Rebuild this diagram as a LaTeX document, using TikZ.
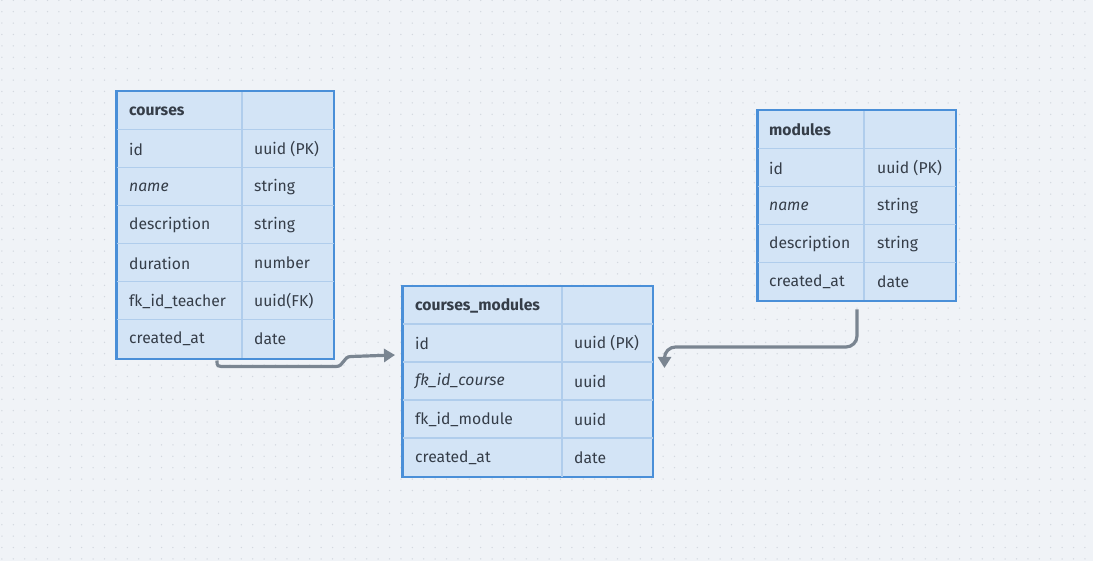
\documentclass[tikz,border=0pt]{standalone}
\usepackage{fontspec}
\setmainfont{Fira Sans}
\usetikzlibrary{arrows.meta,calc}
\definecolor{bg}{HTML}{F0F3F7}
\definecolor{dotc}{HTML}{D3D8DF}
\definecolor{tfill}{HTML}{D3E4F6}
\definecolor{tborder}{HTML}{4A8FD8}
\definecolor{tline}{HTML}{B0CDEC}
\definecolor{txt}{HTML}{353D48}
\definecolor{conn}{HTML}{7A8591}
\tikzset{
  tbl/.style={draw=tborder, line width=1.5pt, fill=tfill, anchor=north west, inner sep=0pt},
  cell/.style={anchor=west, inner sep=0pt, text=txt, font=\fontsize{15.7}{18}\selectfont},
  hcell/.style={cell, font=\fontsize{15.7}{18}\selectfont\bfseries},
  icell/.style={cell, font=\fontsize{15.7}{18}\selectfont\itshape},
  rowline/.style={draw=tline, line width=1.5pt},
  connector/.style={draw=conn, line width=3.2pt, -{Triangle[length=11pt,width=13pt]}},
}
\begin{document}
\begin{tikzpicture}[x=1pt,y=-1pt]
\useasboundingbox (0,0) rectangle (1093,561);
\fill[bg] (0,0) rectangle (1093,561);
\foreach \i in {0,...,96}{
  \foreach \j in {0,...,49}{
    \fill[dotc] ({1.9+11.4*\i},{0.3+11.4*\j}) circle (0.75);
  }
}
% ---------- courses ----------
\node[tbl, minimum width=217pt, minimum height=267pt] (courses) at (116,91) {};
\foreach \y in {129.5,167.5,205.5,243.5,281.5,319.5}
  \draw[rowline] ($(courses.north west)+(1,\y-91)$) -- ($(courses.north east)+(-1,\y-91)$);
\draw[rowline] ($(courses.north west)+(126,1)$) -- ($(courses.south west)+(126,-1)$);
\draw[tborder, line width=1.5pt] (courses.north west) rectangle (courses.south east);
\node[hcell] (c0) at (129,111) {courses};
\node[cell] (c1a) at (129,149) {id};          \node[cell] (c1b) at (254,149) {uuid (PK)};
\node[icell] (c2a) at (129,187) {name};       \node[cell] (c2b) at (254,187) {string};
\node[cell] (c3a) at (129,225) {description}; \node[cell] (c3b) at (254,225) {string};
\node[cell] (c4a) at (129,263) {duration};    \node[cell] (c4b) at (254,263) {number};
\node[cell] (c5a) at (129,301) {fk\_id\_teacher}; \node[cell] (c5b) at (254,301) {uuid(FK)};
\node[cell] (c6a) at (129,339) {created\_at}; \node[cell] (c6b) at (254,339) {date};
% ---------- courses_modules ----------
\node[tbl, minimum width=250pt, minimum height=190pt] (cm) at (402,286) {};
\foreach \y in {324,362,400,438}
  \draw[rowline] ($(cm.north west)+(1,\y-286)$) -- ($(cm.north east)+(-1,\y-286)$);
\draw[rowline] ($(cm.north west)+(160,1)$) -- ($(cm.south west)+(160,-1)$);
\draw[tborder, line width=1.5pt] (cm.north west) rectangle (cm.south east);
\node[hcell] (m0) at (415,305.5) {courses\_modules};
\node[cell] (m1a) at (415,343.5) {id};            \node[cell] (m1b) at (574,343.5) {uuid (PK)};
\node[icell] (m2a) at (415,381.5) {fk\_id\_course}; \node[cell] (m2b) at (574,381.5) {uuid};
\node[cell] (m3a) at (415,419.5) {fk\_id\_module}; \node[cell] (m3b) at (574,419.5) {uuid};
\node[cell] (m4a) at (415,457.5) {created\_at};   \node[cell] (m4b) at (574,457.5) {date};
% ---------- modules ----------
\node[tbl, minimum width=198pt, minimum height=190pt] (mod) at (757,110) {};
\foreach \y in {148.5,186.5,224.5,262.5}
  \draw[rowline] ($(mod.north west)+(1,\y-110)$) -- ($(mod.north east)+(-1,\y-110)$);
\draw[rowline] ($(mod.north west)+(107,1)$) -- ($(mod.south west)+(107,-1)$);
\draw[tborder, line width=1.5pt] (mod.north west) rectangle (mod.south east);
\node[hcell] (d0) at (769,130) {modules};
\node[cell] (d1a) at (769,168) {id};          \node[cell] (d1b) at (877,168) {uuid (PK)};
\node[icell] (d2a) at (769,206) {name};       \node[cell] (d2b) at (877,206) {string};
\node[cell] (d3a) at (769,244) {description}; \node[cell] (d3b) at (877,244) {string};
\node[cell] (d4a) at (769,282) {created\_at}; \node[cell] (d4b) at (877,282) {date};
% ---------- connectors ----------
\coordinate (s1) at ($(courses.south west)+(101,1)$);
\coordinate (e1) at ($(cm.north west)+(-7,69)$);
\draw[connector] (s1) .. controls ($(s1)+(0,6)$) .. ($(s1)+(9,6)$)
  -- ($(s1)+(119,6)$) .. controls ($(s1)+(127,6)$) and ($(s1)+(126,-4)$) .. ($(s1)+(134,-4)$)
  -- (e1);
\coordinate (s2) at ($(mod.south west)+(100,8)$);
\coordinate (e2) at ($(cm.north east)+(11,82)$);
\draw[connector, rounded corners=11pt] (s2) |- ($(e2)+(0,-21)$) -- (e2);
\end{tikzpicture}
\end{document}
